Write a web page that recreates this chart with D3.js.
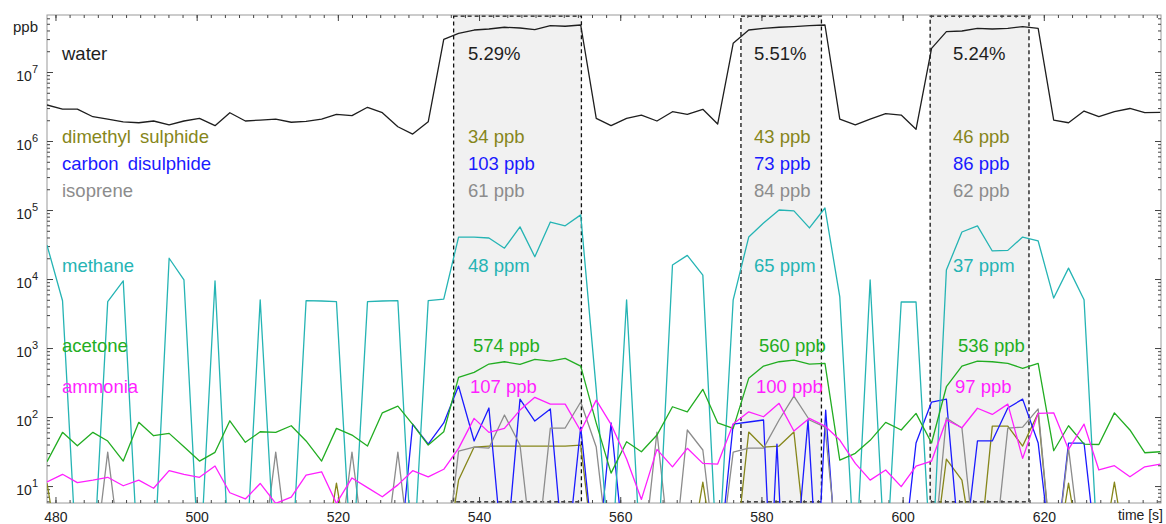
<!DOCTYPE html>
<html>
<head>
<meta charset="utf-8">
<script src="https://cdn.jsdelivr.net/npm/d3@7"></script>
<style>
  body { margin: 0; background: #fff; }
  svg { display: block; font-family: "Liberation Sans", Arial, sans-serif; }
</style>
</head>
<body>
<div id="chart"></div>
<script>
// sample times [s] for the main series
const times = [478.8,481.0,483.1,485.3,487.4,489.6,491.8,493.9,496.1,498.2,
  500.4,502.6,504.7,506.9,509.0,511.2,513.4,515.5,517.7,519.8,
  522.0,524.2,526.3,528.5,530.6,532.8,535.0,537.1,539.3,541.4,
  543.6,545.8,547.9,550.1,552.2,554.4,556.6,558.7,560.9,563.0,
  565.2,567.4,569.5,571.7,573.8,576.0,578.2,580.3,582.5,584.6,
  586.8,589.0,591.1,593.3,595.4,597.6,599.8,601.9,604.1,606.2,
  608.4,610.6,612.7,614.9,617.0,619.2,621.4,623.5,625.7,627.8,
  630.0,632.2,634.3,636.5];

// ppb, 0.5 = below the axis
const water = [3.33e6,2.9e6,2.9e6,2.25e6,2.08e6,1.9e6,1.84e6,1.95e6,1.71e6,1.95e6,
  2.13e6,1.67e6,2.57e6,1.95e6,2.01e6,2.08e6,1.87e6,1.93e6,2.08e6,2.44e6,
  2.33e6,3.08e6,2.57e6,1.61e6,1.26e6,1.9e6,2.98e7,3.64e7,4.06e7,4.2e7,
  4.45e7,4.34e7,4.1e7,4.69e7,4.6e7,4.8e7,2.13e6,1.67e6,2.13e6,2.38e6,
  1.95e6,2.66e6,2.44e6,2.88e6,1.76e6,2.61e7,4.06e7,4.3e7,4.45e7,4.55e7,
  4.7e7,4.8e7,2.08e6,1.71e6,2.08e6,2.5e6,2.38e6,1.48e6,2.2e7,3.84e7,
  3.93e7,4.3e7,4.2e7,4.3e7,4.54e7,4.3e7,2.01e6,1.84e6,2.72e6,2.25e6,
  2.66e6,2.96e6,2.57e6,2.6e6];

const methane = [3.1e4,4850,0.5,0.5,4700,9400,0.5,0.5,2.0e4,9700,
  0.5,9400,0.5,0.5,5000,0.5,0.5,4850,4800,4700,
  0.5,4700,4800,4850,0.5,4850,5100,4.06e4,4.06e4,3.93e4,
  2.8e4,5.7e4,2.1e4,6.7e4,5.9e4,8.5e4,250,0.5,5000,0.5,
  0.5,1.6e4,2.2e4,1.14e4,0.5,5000,4.06e4,6.5e4,1.0e5,9.7e4,
  5.5e4,1.07e5,5500,0.5,9700,0.5,4650,4650,0.5,1.35e4,
  4.8e4,5.9e4,2.55e4,2.6e4,4.06e4,3.56e4,5300,1.44e4,5000,0.5,
  0.5,0.5,0.5,0.5];

const acetone = [22.5,60,38.4,60,44.9,23,83.8,53.6,58,37.1,
  23,30.8,88.3,43,61.2,60,74.8,45,23,68.5,
  54.8,38,115,144,78.4,39.3,61.2,376,444,586,
  633,580,686,648,710,548,81.8,15.4,43.9,31.4,
  54.8,141,119,252,82.6,68.5,364,548,633,670,
  586,600,23.8,29.8,46,83.8,64.9,113,42,275,
  548,648,633,600,508,600,32.5,74.8,40.6,40,
  115,65,30.4,31.4];

const ammonia = [11.5,14.8,11.2,12.2,13.4,10.1,12.2,9.3,16.7,14.8,
  13.4,19.5,8.0,6.5,10.9,5.6,6.9,14.4,16.1,5.6,
  13.1,9.5,7.0,10.4,16.7,13.6,17.5,35.2,95.7,60,
  68.5,126,193,154,154,62.7,176,78.4,24.6,6.4,
  34,19,35.2,21.3,20.8,79.2,119,101,158,62.7,
  95.7,74.1,46.4,21.3,12.2,17.1,9.8,19.5,23,90.6,
  70,134,109,154,25.2,113,115,34,79,17.1,
  19.7,13.6,19,20.8];

// sparse series as [time, ppb]
const dms = [[478.8,11],[481.0,0.5],[517.7,0.5],[519.8,11],[522.0,0.5],[535.0,0.5],
  [537.1,12.2],[539.3,36.7],[541.4,38],[543.6,38],[545.8,38],[547.9,38],[550.1,38],
  [552.2,38],[554.4,39.3],[556.6,0.5],[569.5,0.5],[571.7,11.4],[573.8,0.5],[576.0,0.5],
  [578.2,60.6],[580.3,36.7],[582.5,38],[584.6,60.6],[586.8,0.5],[604.1,0.5],[606.2,24.6],
  [608.4,12.2],[610.6,0.5],[612.7,74],[614.9,74],[617.0,38],[619.2,114],[621.4,0.5],
  [623.5,11],[625.7,0.5],[627.8,0.5],[630.0,11.4],[632.2,0.5],[636.5,0.5]];

const cs2 = [[478.8,0.5],[528.5,0.5],[530.6,79],[532.8,40.6],[535.0,82],[537.1,281],
  [539.3,45],[541.4,135],[543.6,0.5],[545.8,182],[547.9,87.5],[550.1,131],[552.2,0.5],
  [554.4,71.6],[556.6,0.5],[558.7,82],[560.9,0.5],[573.8,0.5],[576.0,79],[578.2,84.7],
  [580.3,90.6],[581.3,0.5],[582.2,40.6],[583.1,0.5],[584.7,0.5],[586.6,90.6],[587.9,0.5],
  [589.1,126],[590.8,0.5],[599.8,0.5],[601.9,42],[604.1,165],[606.2,182],[608.4,0.5],
  [610.6,45],[612.7,45],[614.9,135],[617.0,182],[619.2,42],[621.4,0.5],[623.5,42],
  [625.7,42],[627.8,0.5],[636.5,0.5]];

const isoprene = [[478.8,0.5],[485.3,0.5],[487.4,31],[489.6,0.5],[509.0,0.5],[511.2,31],
  [513.4,0.5],[519.8,0.5],[522.0,31],[524.2,0.5],[526.3,0.5],[528.5,31],[530.6,0.5],
  [535.0,0.5],[537.1,32],[539.3,36.7],[541.4,35.5],[543.6,107],[545.8,39.3],[547.9,0.5],
  [550.1,69.3],[552.2,69.3],[554.4,165],[556.6,36.7],[558.7,0.5],[563.0,0.5],[565.2,60.6],
  [567.4,0.5],[569.5,64.9],[571.7,33.3],[573.8,0.5],[576.0,31],[578.2,35.5],[580.3,35.5],
  [582.5,90.6],[584.6,201],[586.8,90.6],[589.0,71.6],[591.1,0.5],[604.1,0.5],[606.2,96.8],
  [608.4,69.3],[610.6,0.5],[612.7,0.5],[614.9,69.3],[617.0,71.6],[619.2,131],[621.4,0.5],
  [623.5,35.5],[625.7,0.5],[636.5,0.5]];

// breath boxes and their mean values
const boxStart = [536.4, 577.1, 603.9];
const boxEnd = [554.5, 588.5, 617.9];
const waterPct = ['5.29%', '5.51%', '5.24%'];
const dmsMean = [34, 43, 46];
const cs2Mean = [103, 73, 86];
const isoMean = [61, 84, 62];
const methaneMean = [48, 65, 37];
const acetoneMean = [574, 560, 536];
const ammoniaMean = [107, 100, 97];

const names = ['water', 'dimethyl sulphide', 'carbon disulphide', 'isoprene', 'methane', 'acetone', 'ammonia'];
const xTicks = [480, 500, 520, 540, 560, 580, 600, 620];

const width = 1166;
const height = 524;
const margin = {top: 15, right: 5, bottom: 21, left: 47};

const colors = {
  water: '#1e1e1e', dms: '#86861a', cs2: '#1a1aff', iso: '#8c8c8c',
  methane: '#25b4b4', acetone: '#22ad22', ammonia: '#ff1fff'
};

const svg = d3.select('#chart').append('svg')
  .attr('width', width)
  .attr('height', height);

const x = d3.scaleLinear()
  .domain([478.8, 636.6])
  .range([margin.left, width - margin.right]);

const y = d3.scaleLog()
  .domain([5.68, 6.7e7])
  .range([height - margin.bottom, margin.top]);

svg.append('clipPath').attr('id', 'plot')
  .append('rect')
  .attr('x', margin.left).attr('y', margin.top)
  .attr('width', width - margin.left - margin.right)
  .attr('height', height - margin.top - margin.bottom);

// shaded boxes
svg.append('g')
  .selectAll('rect')
  .data(boxStart)
  .join('rect')
    .attr('x', (d) => x(d))
    .attr('y', margin.top + 1)
    .attr('width', (d, i) => x(boxEnd[i]) - x(d))
    .attr('height', height - margin.bottom - margin.top - 2)
    .attr('fill', '#f1f1f1')
    .attr('stroke', '#111')
    .attr('stroke-width', 1.3)
    .attr('stroke-dasharray', '4,3');

// frame + ticks
const inner = height - margin.bottom;
svg.append('rect')
  .attr('x', margin.left).attr('y', margin.top)
  .attr('width', width - margin.left - margin.right)
  .attr('height', inner - margin.top)
  .attr('fill', 'none')
  .attr('stroke', '#9a9a9a');

const minorX = d3.range(480, 637, 2);
const decades = [10, 1e2, 1e3, 1e4, 1e5, 1e6, 1e7];
const minorY = [];
for (let e = 0; e <= 7; e++) {
  for (let m = 2; m <= 9; m++) {
    const v = m * Math.pow(10, e);
    if (v > 5.68 && v < 6.7e7) minorY.push(v);
  }
}

function clean(g) {
  g.select('.domain').remove();
  g.selectAll('.tick line').attr('stroke', '#444');
}

svg.append('g').attr('transform', `translate(0,${inner})`)
  .call(d3.axisBottom(x).tickValues(minorX).tickSize(-3).tickFormat(''))
  .call(clean);
svg.append('g').attr('transform', `translate(0,${inner})`)
  .call(d3.axisBottom(x).tickValues(xTicks).tickSize(-6).tickPadding(9))
  .call(clean)
  .call((g) => g.selectAll('text')
    .attr('font-size', '14px')
    .attr('font-family', '"Liberation Sans", Arial, sans-serif')
    .attr('fill', '#222'));
svg.append('g').attr('transform', `translate(0,${margin.top})`)
  .call(d3.axisTop(x).tickValues(minorX).tickSize(-3).tickFormat(''))
  .call(clean);
svg.append('g').attr('transform', `translate(0,${margin.top})`)
  .call(d3.axisTop(x).tickValues(xTicks).tickSize(-6).tickFormat(''))
  .call(clean);

svg.append('g').attr('transform', `translate(${margin.left},0)`)
  .call(d3.axisLeft(y).tickValues(minorY).tickSize(-3).tickFormat(''))
  .call(clean);
svg.append('g').attr('transform', `translate(${margin.left},0)`)
  .call(d3.axisLeft(y).tickValues(decades).tickSize(-6).tickFormat(''))
  .call(clean);
svg.append('g').attr('transform', `translate(${width - margin.right},0)`)
  .call(d3.axisRight(y).tickValues(minorY).tickSize(-3).tickFormat(''))
  .call(clean);
svg.append('g').attr('transform', `translate(${width - margin.right},0)`)
  .call(d3.axisRight(y).tickValues(decades).tickSize(-6).tickFormat(''))
  .call(clean);

// y tick labels 10^n
const yLab = svg.append('g')
  .selectAll('text')
  .data(decades)
  .join('text')
    .attr('x', 38)
    .attr('y', (d) => y(d) + 8.5)
    .attr('text-anchor', 'end')
    .attr('font-size', '14px')
    .attr('fill', '#222');
yLab.append('tspan').text('10');
yLab.append('tspan')
  .attr('font-size', '11px')
  .attr('dy', -8)
  .text((d) => Math.round(Math.log10(d)));

svg.append('text')
  .attr('x', 38).attr('y', 32)
  .attr('text-anchor', 'end')
  .attr('font-size', '15px')
  .attr('fill', '#222')
  .text('ppb');

svg.append('text')
  .attr('x', 1163).attr('y', 520)
  .attr('text-anchor', 'end')
  .attr('font-size', '14px')
  .attr('fill', '#222')
  .text('time [s]');

// series
const line = d3.line()
  .x((d) => x(d[0]))
  .y((d) => y(d[1]));

const grid = (vals) => vals.map((v, i) => [times[i], v]);

const series = [
  {data: grid(water), color: colors.water},
  {data: dms, color: colors.dms},
  {data: cs2, color: colors.cs2},
  {data: isoprene, color: colors.iso},
  {data: grid(methane), color: colors.methane},
  {data: grid(acetone), color: colors.acetone},
  {data: grid(ammonia), color: colors.ammonia}
];

svg.append('g')
  .attr('clip-path', 'url(#plot)')
  .selectAll('path')
  .data(series)
  .join('path')
    .attr('d', (d) => line(d.data))
    .attr('fill', 'none')
    .attr('stroke', (d) => d.color)
    .attr('stroke-width', 1.3)
    .attr('stroke-linejoin', 'round');

// labels
const rowY = [60, 143, 169.5, 196.5, 272, 351.5, 393];
const rowColor = [colors.water, colors.dms, colors.cs2, colors.iso, colors.methane, colors.acetone, colors.ammonia];

svg.append('g')
  .selectAll('text')
  .data(names)
  .join('text')
    .attr('x', 62)
    .attr('y', (d, i) => rowY[i])
    .attr('font-size', '18.5px')
    .attr('word-spacing', '4px')
    .attr('fill', (d, i) => rowColor[i])
    .text((d) => d);

const annotX = [468, 754, 953];
const rowShift = [0, 0, 0, 0, 0, 5, 2];
const annot = [
  waterPct,
  dmsMean.map((d) => d + ' ppb'),
  cs2Mean.map((d) => d + ' ppb'),
  isoMean.map((d) => d + ' ppb'),
  methaneMean.map((d) => d + ' ppm'),
  acetoneMean.map((d) => d + ' ppb'),
  ammoniaMean.map((d) => d + ' ppb')
];

annot.forEach((row, r) => {
  svg.append('g')
    .selectAll('text')
    .data(row)
    .join('text')
      .attr('x', (d, i) => annotX[i] + rowShift[r])
      .attr('y', rowY[r])
      .attr('font-size', '18.5px')
      .attr('fill', rowColor[r])
      .text((d) => d);
});
</script>
</body>
</html>
